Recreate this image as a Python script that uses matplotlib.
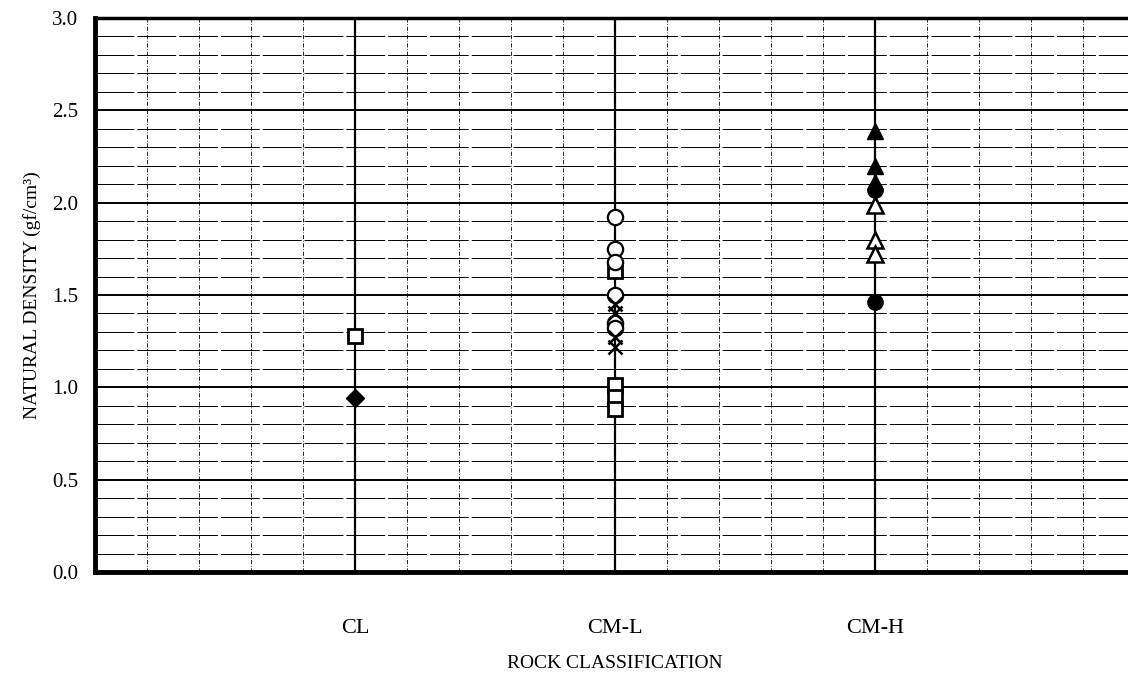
import numpy as np
import matplotlib.pyplot as plt

plt.rcParams['font.family'] = ['Liberation Serif', 'DejaVu Serif']

# -------------------------------
# Data: natural density by rock class
# -------------------------------
classes = ['CL', 'CM-L', 'CM-H']
class_pos = [1, 2, 3]

# (class, density) pairs for each marker group
sq_open_cls = ['CL', 'CM-L', 'CM-L', 'CM-L', 'CM-L']
sq_open_val = [1.28, 1.63, 1.01, 0.95, 0.88]

diamond_cls = ['CL']
diamond_val = [0.94]

circ_open_cls = ['CM-L'] * 6
circ_open_val = [1.92, 1.75, 1.68, 1.50, 1.35, 1.32]

cross_cls = ['CM-L'] * 4
cross_val = [1.45, 1.40, 1.27, 1.22]

tri_fill_cls = ['CM-H'] * 3
tri_fill_val = [2.39, 2.20, 2.11]

circ_fill_cls = ['CM-H'] * 2
circ_fill_val = [2.07, 1.46]

tri_open_cls = ['CM-H'] * 3
tri_open_val = [1.99, 1.80, 1.72]

pos = dict(zip(classes, class_pos))

fig = plt.figure(figsize=(11.28, 6.79), dpi=100)
ax = fig.add_axes([0.0842, 0.1576, 0.922, 0.8159])
ax.set_xlim(0, 4)
ax.set_ylim(0, 3.0)

# -------------------------------
# Grid: fine horizontal lines, heavier every 0.5, dash-dot verticals
# -------------------------------
for y in np.arange(0.1, 3.0, 0.1):
    if abs(y * 2 - round(y * 2)) < 1e-6:
        ax.axhline(y, color='black', lw=1.4, zorder=1)
    else:
        ax.axhline(y, color='black', lw=0.7, ls=(0, (40, 3)), zorder=1)
for x in np.arange(0.2, 4.0, 0.2):
    if any(abs(x - p) < 1e-6 for p in class_pos):
        ax.axvline(x, color='black', lw=1.6, zorder=2)
    else:
        ax.axvline(x, color='black', lw=0.6, ls=(0, (5, 2, 1, 2)), zorder=1)

# -------------------------------
# Markers
# -------------------------------
def xs(cls):
    return [pos[c] for c in cls]

ax.plot(xs(sq_open_cls), sq_open_val, ls='none', marker='s', ms=10,
        mfc='white', mec='black', mew=2.0, zorder=3)
ax.plot(xs(diamond_cls), diamond_val, ls='none', marker='D', ms=9,
        mfc='black', mec='black', zorder=3)
ax.plot(xs(circ_open_cls), circ_open_val, ls='none', marker='o', ms=11,
        mfc='white', mec='black', mew=1.6, zorder=4)
ax.plot(xs(cross_cls), cross_val, ls='none', marker='x', ms=10,
        mec='black', mew=1.8, zorder=4)
ax.plot(xs(tri_fill_cls), tri_fill_val, ls='none', marker='^', ms=11,
        mfc='black', mec='black', zorder=3)
ax.plot(xs(circ_fill_cls), circ_fill_val, ls='none', marker='o', ms=11,
        mfc='black', mec='black', zorder=3)
ax.plot(xs(tri_open_cls), tri_open_val, ls='none', marker='^', ms=11,
        mfc='white', mec='black', mew=1.8, zorder=4)

# -------------------------------
# Axes styling
# -------------------------------
ax.spines['left'].set_linewidth(3.5)
ax.spines['bottom'].set_linewidth(3.5)
ax.spines['top'].set_linewidth(2.5)
ax.spines['right'].set_visible(False)

ax.set_yticks(np.arange(0, 3.01, 0.5))
ax.set_yticklabels([f'{v:.1f}' for v in np.arange(0, 3.01, 0.5)], fontsize=15)
ax.set_xticks(class_pos)
ax.set_xticklabels(classes, fontsize=16)
ax.tick_params(axis='both', length=0)
ax.tick_params(axis='x', pad=34)
ax.tick_params(axis='y', pad=12)

ax.set_xlabel('ROCK CLASSIFICATION', fontsize=14, labelpad=12)
ax.set_ylabel('NATURAL DENSITY (gf/cm³)', fontsize=14, labelpad=8)

fig.savefig('out.png', dpi=100)
